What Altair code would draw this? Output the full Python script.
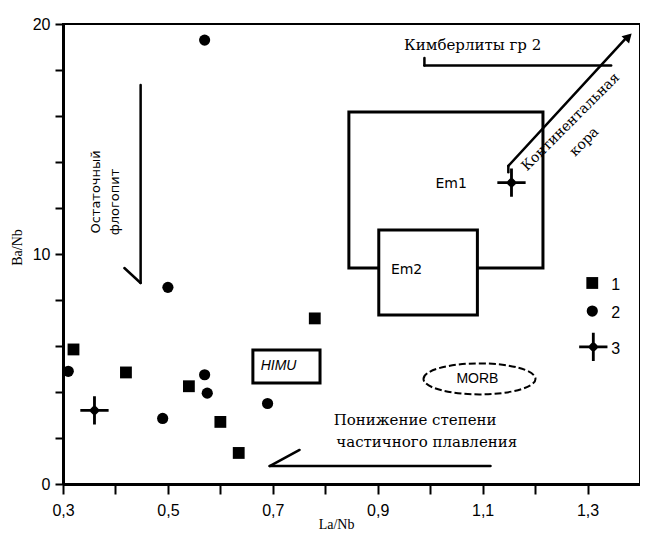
import altair as alt
import pandas as pd

# ---------------- data ----------------
x_ticks = [0.3, 0.4, 0.5, 0.6, 0.7, 0.8, 0.9, 1.0, 1.1, 1.2, 1.3]
y_ticks = [0, 2, 4, 6, 8, 10, 12, 14, 16, 18, 20]

# series 1 (squares)
g1_x = [0.32, 0.42, 0.54, 0.60, 0.635, 0.78]
g1_y = [5.85, 4.85, 4.25, 2.70, 1.35, 7.20]
# series 2 (circles)
g2_x = [0.57, 0.50, 0.31, 0.57, 0.575, 0.49, 0.69]
g2_y = [19.3, 8.55, 4.90, 4.75, 3.95, 2.85, 3.50]
# series 3 (crosses)
g3_x = [0.36, 1.155]
g3_y = [3.20, 13.10]

legend_labels = ["1", "2", "3"]
legend_x = [1.309, 1.309, 1.311]
legend_y = [8.74, 7.52, 5.96]

# field boxes
box_names = ["Em1", "Em2", "HIMU"]
box_x1 = [0.845, 0.902, 0.662]
box_x2 = [1.215, 1.090, 0.790]
box_y1 = [9.39, 7.35, 4.39]
box_y2 = [16.17, 11.04, 5.83]

# MORB field centre
morb_x = [1.094]
morb_y = [4.57]

# arrow / trend line segments
seg_x1 = [0.448, 0.417, 0.694, 0.694, 0.989, 0.989, 1.149, 1.149]
seg_y1 = [17.35, 9.39, 0.78, 0.78, 18.20, 18.52, 13.83, 13.83]
seg_x2 = [0.448, 0.448, 1.115, 0.751, 1.345, 0.989, 1.372, 1.149]
seg_y2 = [8.74, 8.74, 0.78, 1.48, 18.20, 18.20, 19.35, 13.55]

head_x = [1.378]
head_y = [19.45]

# ---------------- scales / axes ----------------
xs = alt.Scale(domain=[0.3, 1.4], nice=False, zero=False)
ys = alt.Scale(domain=[0, 20], nice=False, zero=False)

x_axis = alt.Axis(
    title="La/Nb", values=x_ticks, grid=False,
    labelExpr="indexof(['0.3','0.5','0.7','0.9','1.1','1.3'], format(datum.value,'.1f')) >= 0 ? replace(format(datum.value,'.1f'),'.',',') : ''",
    tickSize=10, labelPadding=8, labelFlush=False,
    titleX=273, titleY=40, titleBaseline="middle", titleAnchor="middle",
)
y_axis = alt.Axis(
    title="Ba/Nb", values=y_ticks, grid=False,
    labelExpr="datum.value % 10 == 0 ? datum.label : ''",
    tickSize=8, labelPadding=5, labelFlush=False,
    titleX=-46, titleY=223, titleBaseline="middle", titleAnchor="middle",
)


def X(f):
    return alt.X(f, type="quantitative", scale=xs, axis=x_axis)


def Y(f):
    return alt.Y(f, type="quantitative", scale=ys, axis=y_axis)


boxes = pd.DataFrame({"name": box_names, "x1": box_x1, "x2": box_x2, "y1": box_y1, "y2": box_y2})
segs = pd.DataFrame({"x1": seg_x1, "y1": seg_y1, "x2": seg_x2, "y2": seg_y2})

rect_layer = alt.Chart(boxes).mark_rect(fill="white", stroke="black", strokeWidth=3).encode(
    x=X("x1"), x2="x2", y=Y("y1"), y2="y2"
)

ellipse_path = "M-1,0A1,0.277 0 1,1 1,0A1,0.277 0 1,1 -1,0Z"
morb_layer = alt.Chart(pd.DataFrame({"x": morb_x, "y": morb_y})).mark_point(
    shape=ellipse_path, size=12544, filled=False, stroke="black", strokeWidth=2,
    strokeDash=[7, 3], opacity=1
).encode(x=X("x"), y=Y("y"))

seg_layer = alt.Chart(segs).mark_rule(color="black", strokeWidth=2.5, strokeCap="round").encode(
    x=X("x1"), x2="x2", y=Y("y1"), y2="y2"
)

head_layer = alt.Chart(pd.DataFrame({"x": head_x, "y": head_y})).mark_point(
    shape="triangle-up", size=110, filled=True, color="black", angle=44, opacity=1
).encode(x=X("x"), y=Y("y"))

cross_path = ("M-1,-0.1H1V0.1H-1Z M-0.1,-1H0.1V1H-0.1Z "
              "M0,-0.4L0.4,0L0,0.4L-0.4,0Z")

pts1 = alt.Chart(pd.DataFrame({"x": g1_x + legend_x[:1], "y": g1_y + legend_y[:1]})).mark_point(
    shape="square", size=140, filled=True, color="black", opacity=1
).encode(x=X("x"), y=Y("y"))
pts2 = alt.Chart(pd.DataFrame({"x": g2_x + legend_x[1:2], "y": g2_y + legend_y[1:2]})).mark_point(
    shape="circle", size=125, filled=True, color="black", opacity=1
).encode(x=X("x"), y=Y("y"))
pts3 = alt.Chart(pd.DataFrame({"x": g3_x + legend_x[2:], "y": g3_y + legend_y[2:]})).mark_point(
    shape=cross_path, size=800, filled=True, color="black", opacity=1
).encode(x=X("x"), y=Y("y"))


def txt(text, x, y, font="DejaVu Serif", size=15, angle=0, align="center", style="normal"):
    return alt.Chart(pd.DataFrame({"t": [text], "x": [x], "y": [y]})).mark_text(
        font=font, fontSize=size, angle=angle, align=align, baseline="middle",
        fontStyle=style, color="black"
    ).encode(x=X("x"), y=Y("y"), text="t:N")


texts = [
    txt("Остаточный", 0.362, 12.70, font="DejaVu Sans", size=13, angle=270),
    txt("флогопит", 0.400, 12.26, font="DejaVu Sans", size=13, angle=270),
    txt("Кимберлиты гр 2", 1.081, 19.09, size=15),
    txt("Континентальная", 1.268, 15.74, size=14, angle=315),
    txt("кора", 1.294, 14.87, size=14, angle=315),
    txt("Понижение степени", 0.816, 2.78, size=15, align="left"),
    txt("частичного плавления", 0.821, 1.83, size=15, align="left"),
    txt("Em1", 1.040, 13.04, font="DejaVu Sans", size=14),
    txt("Em2", 0.955, 9.30, font="DejaVu Sans", size=14),
    txt("HIMU", 0.711, 5.13, font="Liberation Sans", size=14, style="italic"),
    txt("MORB", 1.090, 4.57, font="Liberation Sans", size=14),
]
for lab, lx, ly in zip(legend_labels, legend_x, legend_y):
    texts.append(txt(lab, 1.345, ly - 0.1, font="Liberation Sans", size=16, align="left"))

chart = alt.layer(
    rect_layer, morb_layer, seg_layer, head_layer, *texts, pts1, pts2, pts3
).properties(
    width=577, height=460, autosize="none",
    padding={"left": 55, "top": 16, "right": 0, "bottom": 48},
    background="white",
).configure_view(
    stroke="black", strokeWidth=2
).configure_axis(
    domainColor="black", domainWidth=3, tickColor="black", tickWidth=2,
    labelColor="black", labelFont="Liberation Sans", labelFontSize=16,
    titleFont="Liberation Serif", titleFontSize=14, titleFontWeight="normal", titleColor="black",
)

chart.save("out.html", embed_options={"renderer": "svg", "actions": False})
